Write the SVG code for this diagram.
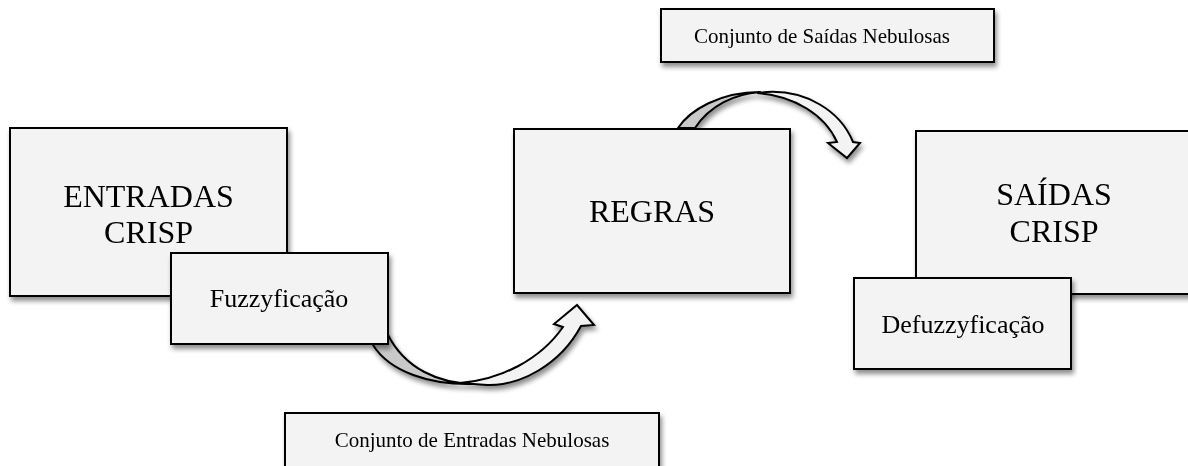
<svg xmlns="http://www.w3.org/2000/svg" width="1188" height="466" viewBox="0 0 1188 466">
<defs>
<filter id="sh" x="-10%" y="-10%" width="130%" height="140%">
<feGaussianBlur in="SourceAlpha" stdDeviation="2.5"/>
<feOffset dx="2" dy="4" result="b"/>
<feComponentTransfer><feFuncA type="linear" slope="0.45"/></feComponentTransfer>
<feMerge><feMergeNode/><feMergeNode in="SourceGraphic"/></feMerge>
</filter>
<style>
.box{fill:#f3f3f3;stroke:#000;stroke-width:2}
.big{font-family:"Liberation Serif","Times New Roman",serif;font-size:32px;fill:#000;text-anchor:middle}
.mid{font-family:"Liberation Serif","Times New Roman",serif;font-size:26px;fill:#000;text-anchor:middle}
.sm{font-family:"Liberation Serif","Times New Roman",serif;font-size:21px;fill:#000;text-anchor:middle}
.dk{fill:#c9c9c9;stroke:#000;stroke-width:2;stroke-linejoin:round}
.lt{fill:#f3f3f3;stroke:#000;stroke-width:2;stroke-linejoin:miter}
</style>
</defs>
<rect width="1188" height="466" fill="#fff"/>
<g id="connectors" filter="url(#sh)">
<g id="arrow-fuzzy">
<path class="dk" d="M373,345 C390,372 430,385 473,384 C440,383 405,370 387,333 Z"/>
<path class="lt" d="M460,383 C500,380 540,360 563,327 L554,324 L577,305 L594,325 L581,326 C560,365 520,386 487,385 Z"/>
</g>
<g id="arrow-defuzzy">
<path class="dk" d="M678,128 C690,110 720,92 760,92 C735,94 710,105 695,128 Z"/>
<path class="lt" d="M757,93 C795,96 825,115 837,142 L828,143 L847,158 L860,143 L853,142 C840,110 805,90 767,92 Z"/>
</g>
</g>
<g id="entradas" filter="url(#sh)">
<rect class="box" x="10" y="128" width="277" height="168"/>
<text class="big" x="148.5" y="207">ENTRADAS</text>
<text class="big" x="148.5" y="243">CRISP</text>
</g>
<g id="fuzzyficacao" filter="url(#sh)">
<rect class="box" x="171" y="253" width="217" height="91"/>
<text class="mid" x="279" y="307">Fuzzyficação</text>
</g>
<g id="regras" filter="url(#sh)">
<rect class="box" x="514" y="129" width="276" height="164"/>
<text class="big" x="652" y="222">REGRAS</text>
</g>
<g id="saidas" filter="url(#sh)">
<rect class="box" x="916" y="131" width="280" height="163"/>
<text class="big" x="1054" y="205">SAÍDAS</text>
<text class="big" x="1054" y="242">CRISP</text>
</g>
<g id="defuzzyficacao" filter="url(#sh)">
<rect class="box" x="854" y="278" width="217" height="91"/>
<text class="mid" x="963" y="333">Defuzzyficação</text>
</g>
<g id="conj-saidas" filter="url(#sh)">
<rect class="box" x="661" y="9" width="333" height="53"/>
<text class="sm" x="822" y="43">Conjunto de Saídas Nebulosas</text>
</g>
<g id="conj-entradas" filter="url(#sh)">
<rect class="box" x="285" y="413" width="374" height="70"/>
<text class="sm" x="472" y="447">Conjunto de Entradas Nebulosas</text>
</g>
</svg>
